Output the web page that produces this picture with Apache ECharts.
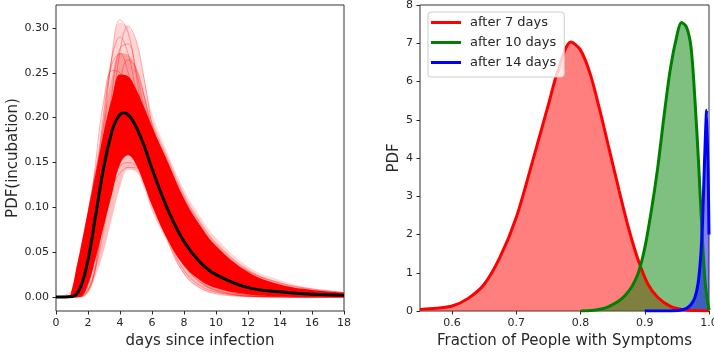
<!DOCTYPE html>
<html>
<head>
<meta charset="utf-8">
<script src="https://cdn.jsdelivr.net/npm/echarts@6/dist/echarts.min.js"></script>
<style>
  html, body { margin: 0; padding: 0; background: #fff; }
  #chart { width: 714px; height: 356px; }
</style>
</head>
<body>
<div id="chart"></div>
<script>
// ---- Left panel: incubation-period densities -------------------------------
const dayTicks = [0, 2, 4, 6, 8, 10, 12, 14, 16, 18];
const pdfTicks = [0, 0.05, 0.10, 0.15, 0.20, 0.25, 0.30];

// posterior mean curve
const meanDays = [0, 1, 1.5, 2, 2.5, 3, 3.5, 3.75, 4, 4.25, 4.5, 4.75, 5, 5.5, 6, 7, 8, 9, 10, 12, 14, 16, 18];
const meanPdf  = [0, 0.0006, 0.0097, 0.0416, 0.0934, 0.1465, 0.1852, 0.1969, 0.2034, 0.2053, 0.2032, 0.1978, 0.1899, 0.1692, 0.1430, 0.0970, 0.0620, 0.0390, 0.0250, 0.0105, 0.0060, 0.0032, 0.0021];

// spread of the posterior draws: full range, denser band, and core
const spreadDays = [0, 0.75, 1, 1.25, 1.5, 2, 2.5, 3, 3.5, 4, 4.5, 5, 5.5, 6, 7, 8, 9, 10, 12, 14, 16, 18];
const outerLow  = [0, 0, 0, 0, 0, 0.005, 0.025, 0.052, 0.088, 0.122, 0.142, 0.140, 0.122, 0.096, 0.060, 0.026, 0.010, 0.004, 0.0005, 0, 0, 0];
const coreLow   = [0, 0, 0, 0, 0, 0.014, 0.045, 0.080, 0.115, 0.148, 0.158, 0.148, 0.126, 0.102, 0.063, 0.035, 0.019, 0.010, 0.003, 0.001, 0, 0];
const coreHigh  = [0, 0, 0.009, 0.030, 0.051, 0.096, 0.140, 0.185, 0.222, 0.248, 0.246, 0.232, 0.212, 0.190, 0.150, 0.110, 0.080, 0.057, 0.028, 0.014, 0.008, 0.005];
const denseHigh = [0, 0, 0.0095, 0.0305, 0.0515, 0.097, 0.145, 0.200, 0.245, 0.272, 0.270, 0.255, 0.228, 0.196, 0.155, 0.115, 0.085, 0.061, 0.031, 0.016, 0.009, 0.0055];
const outerHigh = [0, 0, 0.010, 0.031, 0.052, 0.098, 0.150, 0.220, 0.270, 0.306, 0.301, 0.285, 0.245, 0.205, 0.160, 0.120, 0.090, 0.066, 0.034, 0.019, 0.010, 0.006];

// individual posterior draws
const drawDays = [0, 1, 1.5, 2, 2.5, 3, 3.5, 4, 4.5, 5, 5.5, 6, 7, 8, 9, 10, 12, 14, 16, 18];
const draw01 = [0, 0, 0.0011, 0.0177, 0.0796, 0.180, 0.270, 0.309, 0.295, 0.249, 0.192, 0.1385, 0.0632, 0.0259, 0.0100, 0.0037, 0.0005, 0.0001, 0, 0];
const draw02 = [0, 0, 0.0002, 0.0054, 0.0358, 0.1077, 0.2006, 0.2736, 0.3018, 0.2864, 0.2439, 0.1916, 0.1002, 0.0455, 0.0190, 0.0076, 0.0011, 0.0002, 0, 0];
const draw03 = [0, 0, 0.0031, 0.0298, 0.1019, 0.196, 0.2665, 0.290, 0.2716, 0.2291, 0.1795, 0.1332, 0.0659, 0.0298, 0.0129, 0.0055, 0.0010, 0.0002, 0, 0];
const draw04 = [0, 0, 0.0009, 0.0135, 0.0617, 0.1452, 0.2286, 0.2774, 0.2820, 0.2532, 0.2080, 0.1599, 0.0828, 0.0384, 0.0167, 0.0070, 0.0012, 0.0002, 0, 0];
const draw05 = [0, 0.0002, 0.0073, 0.0463, 0.1241, 0.2070, 0.2597, 0.2713, 0.2508, 0.2130, 0.1702, 0.1302, 0.0700, 0.0351, 0.0170, 0.0081, 0.0018, 0.0004, 0.0001, 0];
const draw06 = [0, 0, 0.0004, 0.0072, 0.0383, 0.1024, 0.1797, 0.2394, 0.2643, 0.2556, 0.2245, 0.1835, 0.1059, 0.0539, 0.0254, 0.0115, 0.0022, 0.0004, 0.0001, 0];
const draw07 = [0, 0.0009, 0.0175, 0.0735, 0.1539, 0.2207, 0.2524, 0.2500, 0.2248, 0.1893, 0.1521, 0.1182, 0.0670, 0.0361, 0.0190, 0.0099, 0.0027, 0.0008, 0.0002, 0.0001];
const draw08 = [0, 0.0016, 0.0134, 0.0403, 0.0752, 0.1080, 0.1322, 0.1459, 0.1500, 0.1467, 0.1384, 0.1271, 0.1015, 0.0774, 0.0574, 0.0419, 0.0219, 0.0114, 0.0060, 0.0032];
const draw09 = [0, 0.0017, 0.0130, 0.0376, 0.0694, 0.0999, 0.1235, 0.1382, 0.1445, 0.1440, 0.1385, 0.1299, 0.1081, 0.0859, 0.0665, 0.0505, 0.0286, 0.0160, 0.0090, 0.0052];
const draw10 = [0, 0.0027, 0.0190, 0.0519, 0.0909, 0.1247, 0.1475, 0.1584, 0.1594, 0.1532, 0.1424, 0.1292, 0.1014, 0.0763, 0.0561, 0.0407, 0.0211, 0.0110, 0.0058, 0.0031];
const draw11 = [0, 0.0001, 0.0032, 0.0175, 0.0471, 0.0859, 0.1234, 0.1513, 0.1665, 0.1698, 0.1637, 0.1513, 0.1185, 0.0860, 0.0596, 0.0402, 0.0175, 0.0075, 0.0032, 0.0014];
const draw12 = [0, 0.0070, 0.0400, 0.0927, 0.1418, 0.1731, 0.1847, 0.1809, 0.1675, 0.1491, 0.1292, 0.1098, 0.0764, 0.0517, 0.0345, 0.0229, 0.0102, 0.0046, 0.0022, 0.0010];
const draw13 = [0, 0, 0.0008, 0.0084, 0.0337, 0.0786, 0.1316, 0.1774, 0.2060, 0.2150, 0.2076, 0.1891, 0.1389, 0.0917, 0.0567, 0.0337, 0.0112, 0.0036, 0.0012, 0.0004];
const posteriorDraws = [draw01, draw02, draw03, draw04, draw05, draw06, draw07, draw08, draw09, draw10, draw11, draw12, draw13];

// ---- Right panel: fraction of people with symptoms --------------------------
const fractionTicks = [0.6, 0.7, 0.8, 0.9, 1.0];
const densityTicks = [0, 1, 2, 3, 4, 5, 6, 7, 8];

const after7Name = 'after 7 days';
const after7X = [0.55, 0.575, 0.60, 0.625, 0.65, 0.675, 0.70, 0.725, 0.75, 0.765, 0.785, 0.80, 0.815, 0.83, 0.845, 0.86, 0.875, 0.89, 0.905, 0.92, 0.94, 0.96, 0.98, 1.0];
const after7Y = [0.04, 0.07, 0.13, 0.33, 0.70, 1.42, 2.45, 3.90, 5.40, 6.30, 7.03, 6.82, 6.20, 5.25, 4.20, 3.15, 2.15, 1.32, 0.70, 0.36, 0.12, 0.03, 0.01, 0.0];

const after10Name = 'after 10 days';
const after10X = [0.80, 0.82, 0.84, 0.86, 0.87, 0.88, 0.89, 0.90, 0.91, 0.92, 0.93, 0.94, 0.95, 0.957, 0.965, 0.972, 0.978, 0.984, 0.989, 0.994, 1.0];
const after10Y = [0.0, 0.02, 0.09, 0.27, 0.42, 0.64, 1.0, 1.65, 2.6, 3.73, 5.1, 6.35, 7.2, 7.54, 7.42, 6.9, 5.55, 3.8, 2.1, 0.75, 0.02];

const after14Name = 'after 14 days';
const after14X = [0.90, 0.94, 0.955, 0.965, 0.972, 0.978, 0.983, 0.987, 0.990, 0.993, 0.9963, 1.0];
const after14Y = [0.0, 0.0, 0.02, 0.07, 0.17, 0.35, 0.72, 1.4, 2.35, 3.9, 5.25, 2.0];

// ---- helpers ----------------------------------------------------------------
const FONT = 'DejaVu Sans';
const INK = '#262626';
const zip = (xs, ys) => xs.map((x, i) => [x, ys[i]]);

function axisCommon(extra) {
  return Object.assign({
    type: 'value',
    axisLine: { show: false, onZero: false },
    splitLine: { show: false },
    nameTextStyle: { color: INK, fontFamily: FONT, fontSize: 15 },
    nameLocation: 'middle'
  }, extra);
}
function labelStyle(ticks, fmt) {
  const s = { color: INK, fontFamily: FONT, fontSize: 11, margin: 7, customValues: ticks };
  if (fmt) s.formatter = fmt;
  return s;
}
function tickStyle(ticks) {
  return { show: true, inside: false, length: 3.5, lineStyle: { color: INK, width: 1 }, customValues: ticks };
}
// filled region from zero up to a curve (left panel); layers are painted in order
function spreadLayer(values, color) {
  return {
    type: 'line', xAxisIndex: 0, yAxisIndex: 0, silent: true,
    symbol: 'none', smooth: 0.4, lineStyle: { width: 0, opacity: 0 },
    areaStyle: { color: color, opacity: 1 },
    data: zip(spreadDays, values), z: 1
  };
}

const series = [];

// spread of the draws, outermost first; the last layer clears below the range
series.push(spreadLayer(outerHigh, '#ffd6d6'));
series.push(spreadLayer(denseHigh, '#ff9c9c'));
series.push(spreadLayer(coreHigh, '#ff0000'));
series.push(spreadLayer(coreLow, '#ffc0c0'));
series.push(spreadLayer(outerLow, '#ffffff'));
// single draws
posteriorDraws.forEach(d => {
  series.push({
    type: 'line', xAxisIndex: 0, yAxisIndex: 0, silent: true,
    symbol: 'none', smooth: 0.4,
    lineStyle: { color: '#ff0000', width: 0.8, opacity: 0.4 },
    data: zip(drawDays, d), z: 3
  });
});
// mean curve
series.push({
  type: 'line', xAxisIndex: 0, yAxisIndex: 0, silent: true,
  symbol: 'none', smooth: 0.4,
  lineStyle: { color: '#000000', width: 3 },
  data: zip(meanDays, meanPdf), z: 4
});

// right panel fills (drawn below all outlines)
const rightSets = [
  [after7Name, after7X, after7Y, '#ff0000'],
  [after10Name, after10X, after10Y, '#008000'],
  [after14Name, after14X, after14Y, '#0000ff']
];
rightSets.forEach(([name, xs, ys, col]) => {
  series.push({
    type: 'line', xAxisIndex: 1, yAxisIndex: 1, silent: true,
    name: name + ' area', symbol: 'none', smooth: 0.3,
    lineStyle: { width: 0, opacity: 0 },
    areaStyle: { color: col, opacity: 0.5 },
    data: zip(xs, ys), z: 2
  });
});
rightSets.forEach(([name, xs, ys, col]) => {
  series.push({
    type: 'line', xAxisIndex: 1, yAxisIndex: 1, silent: true,
    name: name, symbol: 'none', smooth: 0.3, color: col,
    lineStyle: { color: col, width: 3 },
    data: zip(xs, ys), z: 3
  });
});

const option = {
  animation: false,
  backgroundColor: '#ffffff',
  textStyle: { fontFamily: FONT },
  grid: [
    { left: 56, top: 5, width: 288, height: 306, show: true, borderColor: '#333', borderWidth: 1, backgroundColor: 'transparent', containLabel: false, outerBoundsMode: 'none' },
    { left: 420, top: 5, width: 289, height: 306, show: true, borderColor: '#333', borderWidth: 1, backgroundColor: 'transparent', containLabel: false, outerBoundsMode: 'none' }
  ],
  xAxis: [
    axisCommon({
      gridIndex: 0, min: 0, max: 18, interval: 2,
      name: 'days since infection', nameGap: 19,
      axisLabel: labelStyle(dayTicks), axisTick: tickStyle(dayTicks)
    }),
    axisCommon({
      gridIndex: 1, min: 0.55, max: 1.0,
      name: 'Fraction of People with Symptoms', nameGap: 19,
      axisLabel: labelStyle(fractionTicks, v => v.toFixed(1)), axisTick: tickStyle(fractionTicks)
    })
  ],
  yAxis: [
    axisCommon({
      gridIndex: 0, min: -0.0155, max: 0.3255,
      name: 'PDF(incubation)', nameGap: 30,
      axisLabel: labelStyle(pdfTicks, v => v.toFixed(2)), axisTick: tickStyle(pdfTicks)
    }),
    axisCommon({
      gridIndex: 1, min: 0, max: 8, interval: 1,
      name: 'PDF', nameGap: 16,
      axisLabel: labelStyle(densityTicks), axisTick: tickStyle(densityTicks)
    })
  ],
  legend: {
    data: [after7Name, after10Name, after14Name],
    orient: 'vertical', left: 428, top: 12,
    icon: 'rect', itemWidth: 30, itemHeight: 3, itemGap: 5,
    padding: [3, 8, 7, 3],
    backgroundColor: 'rgba(255,255,255,0.8)', borderColor: '#cccccc', borderWidth: 1, borderRadius: 3,
    textStyle: { color: INK, fontFamily: FONT, fontSize: 13, lineHeight: 15, padding: [0, 0, 0, 4] },
    selectedMode: false
  },
  series: series
};

const chart = echarts.init(document.getElementById('chart'), null, { renderer: 'canvas' });
chart.setOption(option);
</script>
</body>
</html>
